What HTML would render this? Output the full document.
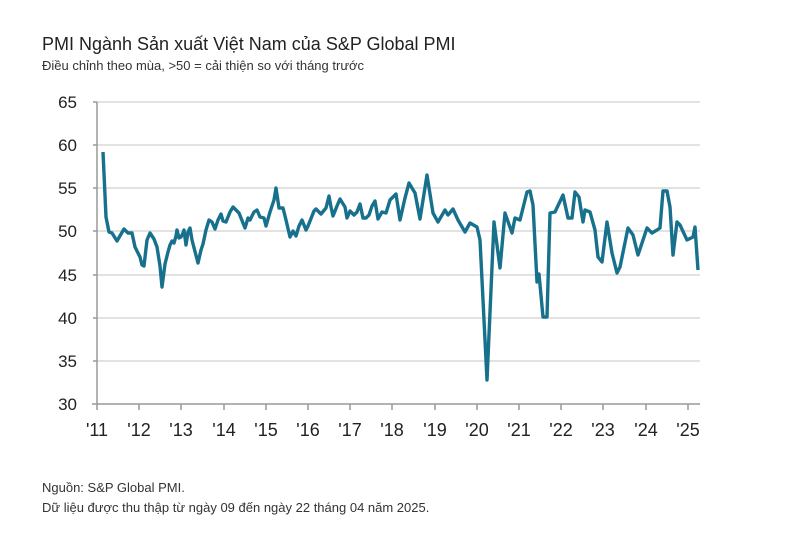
<!DOCTYPE html>
<html><head><meta charset="utf-8"><style>
body{margin:0;background:#fff;width:810px;height:535px;overflow:hidden;font-family:"Liberation Sans",sans-serif;}
</style></head><body>
<svg width="810" height="535" xmlns="http://www.w3.org/2000/svg" font-family="Liberation Sans, sans-serif">
<text x="42" y="50" font-size="18" fill="#222">PMI Ngành Sản xuất Việt Nam của S&amp;P Global PMI</text>
<text x="42" y="70" font-size="13" fill="#333">Điều chỉnh theo mùa, &gt;50 = cải thiện so với tháng trước</text>
<g stroke="#d9d9d9" stroke-width="1.5">
<line x1="97" y1="102" x2="700" y2="102"/><line x1="97" y1="145" x2="700" y2="145"/><line x1="97" y1="188" x2="700" y2="188"/><line x1="97" y1="231" x2="700" y2="231"/><line x1="97" y1="275" x2="700" y2="275"/><line x1="97" y1="318" x2="700" y2="318"/><line x1="97" y1="361" x2="700" y2="361"/>
</g>
<line x1="97" y1="102" x2="97" y2="404" stroke="#999" stroke-width="1.5"/>
<line x1="92" y1="404" x2="700" y2="404" stroke="#999" stroke-width="1.5"/>
<g stroke="#999" stroke-width="1.5"><line x1="93" y1="102" x2="97" y2="102"/><line x1="93" y1="145" x2="97" y2="145"/><line x1="93" y1="188" x2="97" y2="188"/><line x1="93" y1="231" x2="97" y2="231"/><line x1="93" y1="275" x2="97" y2="275"/><line x1="93" y1="318" x2="97" y2="318"/><line x1="93" y1="361" x2="97" y2="361"/>
<line x1="97" y1="404" x2="97" y2="410"/><line x1="139" y1="404" x2="139" y2="410"/><line x1="181" y1="404" x2="181" y2="410"/><line x1="224" y1="404" x2="224" y2="410"/><line x1="266" y1="404" x2="266" y2="410"/><line x1="308" y1="404" x2="308" y2="410"/><line x1="350" y1="404" x2="350" y2="410"/><line x1="392" y1="404" x2="392" y2="410"/><line x1="435" y1="404" x2="435" y2="410"/><line x1="477" y1="404" x2="477" y2="410"/><line x1="519" y1="404" x2="519" y2="410"/><line x1="561" y1="404" x2="561" y2="410"/><line x1="603" y1="404" x2="603" y2="410"/><line x1="646" y1="404" x2="646" y2="410"/><line x1="688" y1="404" x2="688" y2="410"/></g>
<g font-size="17" fill="#222" text-anchor="end">
<text x="77" y="108">65</text><text x="77" y="151">60</text><text x="77" y="194">55</text><text x="77" y="237">50</text><text x="77" y="281">45</text><text x="77" y="324">40</text><text x="77" y="367">35</text><text x="77" y="410">30</text>
</g>
<g font-size="18" fill="#222" text-anchor="middle">
<text x="97" y="436">'11</text><text x="139" y="436">'12</text><text x="181" y="436">'13</text><text x="224" y="436">'14</text><text x="266" y="436">'15</text><text x="308" y="436">'16</text><text x="350" y="436">'17</text><text x="392" y="436">'18</text><text x="435" y="436">'19</text><text x="477" y="436">'20</text><text x="519" y="436">'21</text><text x="561" y="436">'22</text><text x="603" y="436">'23</text><text x="646" y="436">'24</text><text x="688" y="436">'25</text>
</g>
<polyline fill="none" stroke="#18718c" stroke-width="3.4" stroke-linejoin="round" points="103,152 106,217 109,232 112,233 117,241 124,229 128,233 132,233 135,247 140,257 142,265 144,266 147,240 150,233 154,239 157,247 160,266 162,287 165,264 168,252 170,245 172,241 174,243 176,236 177,230 179,238 181,237 183,233 184,230 186,245 188,232 190,228 192,240 198,263 201,250 203,244 206,230 209,220 212,222 215,229 218,220 221,214 223,221 226,222 230,212 233,207 236,210 239,213 241,218 245,228 248,218 250,220 254,212 257,210 260,217 264,218 266,226 270,212 274,200 276,188 279,208 283,208 286,220 290,237 293,231 296,236 299,226 302,220 306,230 308,226 312,216 314,211 316,209 321,214 326,208 329,196 331,207 333,216 337,206 340,199 345,207 347,218 350,211 354,215 357,212 360,204 363,218 366,218 369,215 372,206 375,201 378,219 382,212 386,213 390,200 396,194 400,220 405,198 409,183 415,193 420,219 427,175 433,213 438,222 445,210 448,215 453,209 458,220 465,232 470,223 477,227 480,240 487,380 494,222 500,268 505,213 512,233 515,218 520,220 527,192 530,191 533,205 537,282 539,274 543,317 547,317 550,213 555,212 563,195 568,218 572,218 575,192 579,197 583,222 585,210 590,212 595,230 598,257 602,262 607,222 612,253 617,273 620,267 628,228 633,235 638,255 647,228 652,233 657,230 660,228 663,191 667,191 670,207 673,255 677,222 680,225 687,240 693,237 695,227 698,270"/>
<text x="42" y="492" font-size="13" fill="#333">Nguồn: S&amp;P Global PMI.</text>
<text x="42" y="512" font-size="13" fill="#333">Dữ liệu được thu thập từ ngày 09 đến ngày 22 tháng 04 năm 2025.</text>
</svg>
</body></html>
